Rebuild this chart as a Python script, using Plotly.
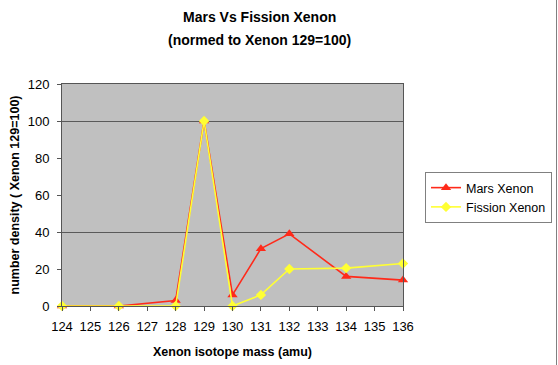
import plotly.graph_objects as go

mass = [124, 126, 128, 129, 130, 131, 132, 134, 136]
mars_xenon = [0, 0, 3, 100, 6, 31, 39, 16, 14]
fission_xenon = [0, 0, 0, 100, 0, 6, 20, 20.5, 23]
x_ticks = list(range(124, 137))
y_ticks = [0, 20, 40, 60, 80, 100, 120]
grid_vals = [40, 100]
title_lines = ["Mars Vs Fission Xenon", "(normed to Xenon 129=100)"]

fig = go.Figure()
# invisible trace on a second y-axis to carry the two visible gridlines
fig.add_trace(go.Scatter(x=[mass[0]], y=[0], yaxis="y2", showlegend=False,
                         mode="markers", marker=dict(opacity=0), hoverinfo="skip"))
fig.add_trace(go.Scatter(
    x=mass, y=mars_xenon, name="Mars Xenon", mode="lines+markers", cliponaxis=False,
    line=dict(color="#ff2a1a", width=1.6),
    marker=dict(symbol="triangle-up", size=9, color="#ff2a1a"),
))
fig.add_trace(go.Scatter(
    x=mass, y=fission_xenon, name="Fission Xenon", mode="lines+markers", cliponaxis=False,
    line=dict(color="#ffff33", width=1.6),
    marker=dict(symbol="diamond", size=8, color="#ffff33"),
))

font = "Liberation Sans, Arial, sans-serif"
W, H = 558, 365
ml, mr, mt, mb = 62, 155, 84, 59
pw, ph = W - ml - mr, H - mt - mb


def px_x(x):
    return (x - ml) / pw


def px_y(y):
    return (H - mb - y) / ph


annotations = [
    dict(text="<b>%s</b>" % t, xref="paper", yref="paper", x=px_x(259), y=px_y(yc),
         xanchor="center", yanchor="middle", showarrow=False,
         font=dict(size=14, family=font, color="black"))
    for t, yc in zip(title_lines, [17, 40])
]

fig.update_layout(
    width=W, height=H,
    margin=dict(l=ml, r=mr, t=mt, b=mb, autoexpand=False),
    paper_bgcolor="white",
    plot_bgcolor="#c0c0c0",
    font=dict(family=font, size=13, color="black"),
    xaxis=dict(
        range=[124, 136], tickvals=x_ticks, ticktext=[str(t) for t in x_ticks],
        showgrid=False, zeroline=False, automargin=False,
        showline=True, linecolor="#555555", linewidth=1, mirror=True,
        ticks="outside", ticklen=4, tickcolor="#555555", ticklabelstandoff=4,
        title=dict(text="<b>Xenon isotope mass (amu)</b>", font=dict(size=12.5), standoff=14),
        tickfont=dict(size=13),
    ),
    yaxis=dict(
        range=[0, 120], tickvals=y_ticks,
        showgrid=False, zeroline=False, automargin=False,
        showline=True, linecolor="#555555", linewidth=1, mirror=True,
        ticks="outside", ticklen=4, tickcolor="#555555", ticklabelstandoff=5,
        title=dict(text="<b>number density ( Xenon 129=100)</b>", font=dict(size=12.5), standoff=5),
        tickfont=dict(size=13),
    ),
    yaxis2=dict(
        range=[0, 120], overlaying="y", tickvals=grid_vals, showticklabels=False,
        showgrid=True, gridcolor="#5a5a5a", gridwidth=1, zeroline=False, showline=False,
        automargin=False,
    ),
    legend=dict(
        x=px_x(425), y=px_y(172), xanchor="left", yanchor="top",
        bgcolor="white", bordercolor="#808080", borderwidth=1,
        font=dict(size=12.5), tracegroupgap=0,
    ),
    annotations=annotations,
    shapes=[dict(type="line", xref="paper", yref="paper",
                 x0=px_x(556.5), x1=px_x(556.5), y0=px_y(H), y1=px_y(0),
                 line=dict(color="#808080", width=1))],
)
fig.write_html("out.html", config={"displayModeBar": False},
               post_script="document.body.style.margin='0';")
